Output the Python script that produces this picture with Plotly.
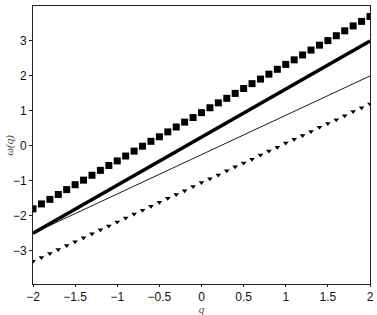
import plotly.graph_objects as go

q_pts = [-2.0, -1.9, -1.8, -1.7, -1.6, -1.5, -1.4, -1.3, -1.2, -1.1, -1.0,
         -0.9, -0.8, -0.7, -0.6, -0.5, -0.4, -0.3, -0.2, -0.1, 0.0,
         0.1, 0.2, 0.3, 0.4, 0.5, 0.6, 0.7, 0.8, 0.9, 1.0,
         1.1, 1.2, 1.3, 1.4, 1.5, 1.6, 1.7, 1.8, 1.9, 2.0]

squares = [-1.80, -1.66, -1.53, -1.39, -1.25, -1.11, -0.98, -0.84, -0.70, -0.56,
           -0.43, -0.29, -0.15, -0.01, 0.13, 0.26, 0.40, 0.54, 0.68, 0.81,
           0.95, 1.09, 1.23, 1.36, 1.50, 1.64, 1.78, 1.91, 2.05, 2.19,
           2.33, 2.46, 2.60, 2.74, 2.88, 3.01, 3.15, 3.29, 3.43, 3.56, 3.70]

triangles = [-3.30, -3.19, -3.08, -2.96, -2.85, -2.74, -2.63, -2.51, -2.40, -2.29,
             -2.18, -2.06, -1.95, -1.84, -1.73, -1.61, -1.50, -1.39, -1.28, -1.16,
             -1.05, -0.94, -0.83, -0.71, -0.60, -0.49, -0.38, -0.26, -0.15, -0.04,
             0.08, 0.19, 0.30, 0.41, 0.53, 0.64, 0.75, 0.86, 0.98, 1.09, 1.20]

line_q = [-2.0, 2.0]
thick_line = [-2.5, 3.0]
thin_line = [-2.5, 2.0]

x_ticks = [-2, -1.5, -1, -0.5, 0, 0.5, 1, 1.5, 2]
x_tick_labels = ["\u22122", "\u22121.5", "\u22121", "\u22120.5", "0", "0.5", "1", "1.5", "2"]
y_ticks = [-3, -2, -1, 0, 1, 2, 3]
y_tick_labels = ["\u22123", "\u22122", "\u22121", "0", "1", "2", "3"]

fig = go.Figure()
fig.add_trace(go.Scatter(x=line_q, y=thin_line, mode="lines",
                         line=dict(color="black", width=0.9)))
fig.add_trace(go.Scatter(x=line_q, y=thick_line, mode="lines",
                         line=dict(color="black", width=3.5)))
fig.add_trace(go.Scatter(x=q_pts, y=squares, mode="markers",
                         marker=dict(symbol="square", size=7, color="black")))
fig.add_trace(go.Scatter(x=q_pts, y=triangles, mode="markers",
                         marker=dict(symbol="triangle-down", size=5, color="black")))

tick_font = dict(family="Liberation Sans, Arial", size=12, color="#111")
axis_common = dict(showgrid=False, zeroline=False, showline=True, linecolor="#222",
                   linewidth=1, mirror=True, tickcolor="#222", tickfont=tick_font,
                   ticklabeloverflow="allow")
fig.update_xaxes(range=[-2, 2], tickvals=x_ticks, ticktext=x_tick_labels,
                 ticks="outside", ticklen=2,
                 title=dict(text="<i>q</i>", standoff=0,
                            font=dict(family="Liberation Serif", size=11, color="#444")),
                 **axis_common)
fig.update_yaxes(range=[-3.95, 4.0], tickvals=y_ticks, ticktext=y_tick_labels,
                 ticks="outside", ticklen=3, **axis_common)
fig.update_layout(width=377, height=315, showlegend=False,
                  margin=dict(l=33, r=3, t=6, b=28),
                  plot_bgcolor="white", paper_bgcolor="white",
                  annotations=[
                      dict(text="<i>\u03c9(q)</i>", x=-0.072, xref="paper", y=0.5,
                           yref="paper", textangle=-90, showarrow=False,
                           xanchor="center", yanchor="middle",
                           font=dict(family="Liberation Serif", size=11, color="#444")),
                  ])
fig.write_html("out.html")
